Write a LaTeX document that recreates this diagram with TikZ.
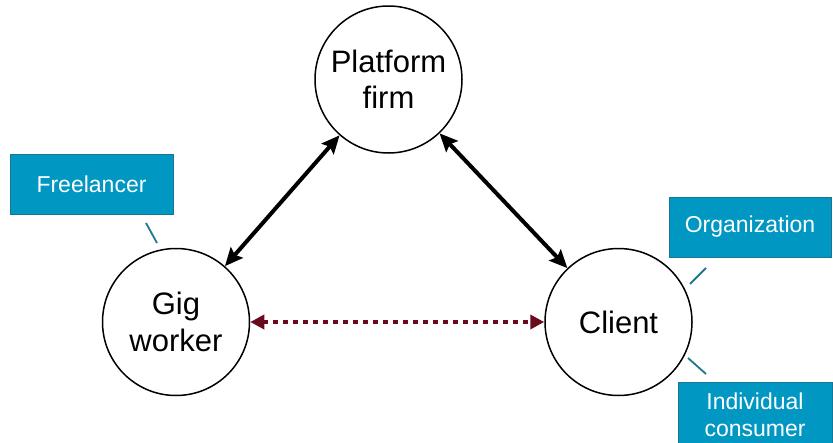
\documentclass[tikz,border=0pt]{standalone}
\usepackage{fontspec}
\setmainfont{Liberation Sans}
\usetikzlibrary{arrows.meta}
\definecolor{boxfill}{HTML}{0097C3}
\definecolor{boxline}{HTML}{1A7594}
\definecolor{linkteal}{HTML}{1F7A8C}
\definecolor{maroon}{HTML}{6B0A1E}
\tikzset{
  actor/.style={circle, draw=black, line width=1.5pt, fill=white, align=center, font=\fontsize{31}{36.5}\selectfont, inner sep=0pt, minimum size=147pt},
  tag/.style={draw=boxline, fill=boxfill, line width=1pt, text=white, align=center, font=\fontsize{23}{27}\selectfont, inner sep=0pt},
  link/.style={draw=linkteal, line width=1.8pt},
  rel/.style={line width=4pt, {Stealth[length=18pt,width=16pt,inset=3pt]}-{Stealth[length=18pt,width=16pt,inset=3pt]}},
  peer/.style={draw=maroon, line width=4.5pt, dash pattern=on 5pt off 5pt, {Triangle[length=14pt,width=14pt,color=maroon,fill=maroon]}-{Triangle[length=14pt,width=14pt,color=maroon,fill=maroon]}}
}
\begin{document}
\begin{tikzpicture}[x=1pt,y=-1pt]
\useasboundingbox (0,0) rectangle (833,442);
\node[actor] (pf) at (388.5,79.5) {Platform\\firm};
\node[actor] (gw) at (176,322) {Gig\\worker};
\node[actor] (cl) at (618.5,322) {Client};
\node[tag, minimum width=163pt, minimum height=60pt] (fr) at (91.5,184) {Freelancer};
\node[tag, minimum width=162pt, minimum height=60pt] (org) at (750,227) {Organization};
\node[tag, minimum width=154pt, minimum height=66pt] (ic) at (755,415) {Individual\\consumer};
\coordinate (fr1) at (146,223); \coordinate (fr2) at (157,243);
\coordinate (or1) at (690,284); \coordinate (or2) at (706,268);
\coordinate (ic1) at (688,358); \coordinate (ic2) at (706,374);
\draw[link] (fr1) -- (fr2);
\draw[link] (or1) -- (or2);
\draw[link] (ic1) -- (ic2);
\draw[rel] (pf) -- (gw);
\draw[rel] (pf) -- (cl);
\draw[peer] (gw.east) -- (cl.west);
\end{tikzpicture}
\end{document}
